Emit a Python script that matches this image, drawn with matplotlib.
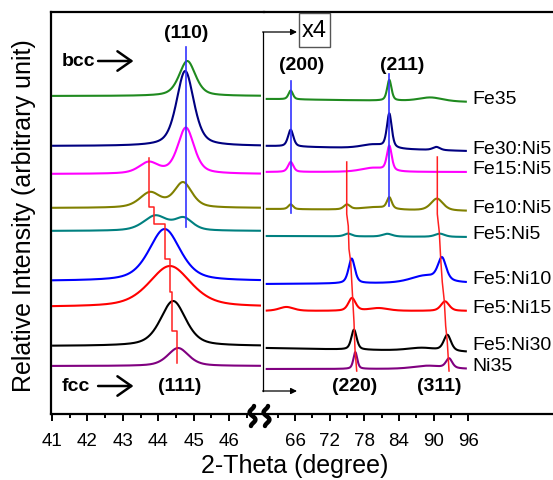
import numpy as np
import matplotlib
matplotlib.use("Agg")
import matplotlib.pyplot as plt
from matplotlib.patches import Rectangle

plt.rcParams["font.family"] = ["Liberation Sans", "DejaVu Sans"]

# ---------------- data ----------------
samples = ["Fe35", "Fe30:Ni5", "Fe15:Ni5", "Fe10:Ni5", "Fe5:Ni5",
           "Fe5:Ni10", "Fe5:Ni15", "Fe5:Ni30", "Ni35"]
colors = ["#1f8a1f", "#000080", "#ff00ff", "#808000", "#008080",
          "#0000ff", "#ff0000", "#000000", "#800080"]

# vertical stacking offsets (arbitrary units)
offset_left = [318, 268, 240, 206, 183, 133, 107, 68, 48]
offset_right_start = [315, 268, 242, 205, 178, 130, 103, 66, 45]
offset_right_end = [312, 263, 242, 203, 177, 131, 103, 62, 45]

# (110)/(111) region: peaks as (2-theta, intensity, FWHM)
peaks_left = [
    [(44.82, 35, 0.55)],
    [(44.76, 75, 0.58)],
    [(43.73, 11, 0.65), (44.78, 46, 0.55)],
    [(43.77, 15, 0.70), (44.70, 25, 0.60)],
    [(43.92, 15, 0.80), (44.72, 12, 0.60)],
    [(44.18, 52, 1.05)],
    [(44.33, 41, 1.40)],
    [(44.42, 45, 0.85)],
    [(44.56, 18, 0.70)],
]

# high-angle region (intensities before the x4 magnification)
RIGHT_SCALE = 4
peaks_right = [
    [(65.25, 2.2, 0.9), (82.34, 5.2, 0.9), (89.5, 1.0, 5.0)],
    [(65.25, 4.2, 1.1), (82.34, 8.5, 1.0), (79.5, 1.0, 5.0), (90.5, 0.8, 1.5)],
    [(65.25, 2.5, 1.1), (82.34, 6.2, 1.0), (79.5, 1.0, 5.0)],
    [(65.25, 1.2, 1.0), (75.0, 1.2, 1.3), (82.34, 2.8, 1.0),
     (90.6, 3.0, 2.5), (80.0, 0.7, 6.0)],
    [(75.2, 0.7, 1.5), (82.0, 0.7, 2.0), (91.1, 0.8, 2.0)],
    [(75.82, 6.2, 1.3), (91.47, 5.6, 1.7), (88.5, 1.8, 6.0)],
    [(64.5, 1.0, 3.0), (75.87, 3.2, 1.5), (92.0, 2.4, 1.7), (80.5, 0.7, 4.0)],
    [(76.22, 5.0, 1.1), (92.4, 4.0, 1.5), (88.0, 0.8, 6.0)],
    [(76.45, 4.2, 0.8), (92.7, 2.4, 1.3), (89.0, 0.8, 6.0)],
]

# peak-position guide lines
bcc110 = (44.79, 187, 367)
bcc200 = (65.25, 201, 333)
bcc211 = (82.34, 208, 340)
fcc111_x = [43.73, 43.88, 44.20, 44.33, 44.40, 44.52]
fcc111_y = [256, 207, 190, 155, 122, 83, 51]
fcc220_x = [74.96, 74.96, 75.23, 75.35, 75.65, 75.93, 76.22, 76.39, 76.69]
fcc220_y = [252, 200, 188, 165, 152, 122, 92, 65, 43]
fcc311_x = [90.66, 90.66, 91.00, 91.25, 91.52, 91.87, 92.11, 92.39, 92.69]
fcc311_y = [257, 200, 182, 155, 132, 113, 88, 72, 43]

left_ticks = [41, 42, 43, 44, 45, 46]
right_ticks = [66, 72, 78, 84, 90, 96]


def pseudo_voigt(x, center, height, fwhm, eta=0.5):
    d = (x - center) / fwhm
    gauss = np.exp(-4 * np.log(2) * d ** 2)
    lorentz = 1.0 / (1.0 + 4 * d ** 2)
    return height * (eta * lorentz + (1 - eta) * gauss)


# ---------------- figure ----------------
W, H = 553, 481
fig = plt.figure(figsize=(W / 100, H / 100), dpi=100)
fig.patch.set_facecolor("white")

top_px, bot_px = 13, 415
ax_bottom = (H - bot_px) / H
ax_height = (bot_px - top_px) / H
left_px, split_px, right_px = 51, 264.5, 560
ax1 = fig.add_axes([left_px / W, ax_bottom, (split_px - left_px) / W, ax_height])
ax2 = fig.add_axes([split_px / W, ax_bottom, (right_px - split_px) / W, ax_height])

ax1.set_xlim(40.97, 47.0)
ax2.set_xlim(60.71, 60.71 + (right_px - split_px) / 5.77)
for ax in (ax1, ax2):
    ax.set_ylim(0, bot_px - top_px)
    ax.set_yticks([])
    ax.patch.set_alpha(0)
    for s in ("top", "bottom", "left"):
        ax.spines[s].set_linewidth(1.6)
ax1.spines["right"].set_visible(False)
ax2.spines["left"].set_visible(False)
ax2.spines["right"].set_visible(False)

ax1.set_xticks(left_ticks)
ax1.set_xticks(np.arange(41.5, 47.0, 1.0), minor=True)
ax2.set_xticks(right_ticks)
ax2.set_xticks(np.arange(63, 96, 6), minor=True)
for ax in (ax1, ax2):
    ax.tick_params(axis="x", which="major", direction="out", length=4.8,
                   width=1.4, labelsize=13.5, pad=8)
    ax.tick_params(axis="x", which="minor", direction="out", length=2.8,
                   width=1.4)

x_left = np.linspace(41.0, 46.9, 800)
x_right = np.linspace(61.1, 95.6, 900)

for i, name in enumerate(samples):
    yl = np.full_like(x_left, float(offset_left[i]))
    for c, h, w in peaks_left[i]:
        yl += pseudo_voigt(x_left, c, h, w)
    ax1.plot(x_left, yl, color=colors[i], lw=1.5, solid_capstyle="butt")

    yr = np.interp(x_right, [x_right[0], x_right[-1]],
                   [offset_right_start[i], offset_right_end[i]])
    for c, h, w in peaks_right[i]:
        yr += RIGHT_SCALE * pseudo_voigt(x_right, c, h, w)
    ax2.plot(x_right, yr, color=colors[i], lw=1.5)

    nudge = {"Fe5:Ni30": 7, "Fe5:Ni10": 4}.get(name, 3)
    ax2.text(96.67, offset_right_end[i] + nudge, name, fontsize=14,
             ha="left", va="center")

# bcc guide lines (blue)
for ax, (x, y0, y1) in ((ax1, bcc110), (ax2, bcc200), (ax2, bcc211)):
    ax.plot([x, x], [y0, y1], color="#3333ff", lw=1.2)

# fcc (111) staircase guide (red)
sx, sy = [], []
for k, x in enumerate(fcc111_x):
    sx += [x, x]
    sy += [fcc111_y[k], fcc111_y[k + 1]]
ax1.plot(sx, sy, color="#ff2020", lw=1.1)
ax2.plot(fcc220_x, fcc220_y, color="#ff2020", lw=1.1)
ax2.plot(fcc311_x, fcc311_y, color="#ff2020", lw=1.1)

# reflection labels
bold = dict(fontsize=14, fontweight="bold", ha="center", va="center")
ax1.text(44.79, 382, "(110)", **bold)
ax1.text(44.60, 28, "(111)", **bold)
ax2.text(67.2, 350, "(200)", **bold)
ax2.text(84.54, 350, "(211)", **bold)
ax2.text(76.4, 28, "(220)", **bold)
ax2.text(90.95, 28, "(311)", **bold)

ax1.text(41.28, 353, "bcc", fontsize=14, fontweight="bold", ha="left", va="center")
ax1.text(41.28, 28, "fcc", fontsize=14, fontweight="bold", ha="left", va="center")
for y in (353, 28):
    ax1.annotate("", xy=(43.3, y), xytext=(42.3, y),
                 arrowprops=dict(arrowstyle="->,head_length=0.5,head_width=0.35",
                                 lw=1.8, color="black", mutation_scale=20,
                                 shrinkA=0, shrinkB=0))

# overlay in pixel coordinates for axis titles and annotations
ov = fig.add_axes([0, 0, 1, 1])
ov.set_xlim(0, W)
ov.set_ylim(H, 0)
ov.axis("off")
ov.patch.set_alpha(0)

ov.text(295, 466, "2-Theta (degree)", fontsize=18, ha="center", va="center")
ov.text(24, 216, "Relative Intensity (arbitrary unit)", fontsize=18,
        rotation=90, ha="center", va="center")

# x4 bracket
ov.plot([263, 263], [33, 392], color="black", lw=0.9)
for y in (33, 392):
    ov.annotate("", xy=(297, y), xytext=(262.6, y),
                arrowprops=dict(arrowstyle="-|>", lw=0.9, color="black",
                                mutation_scale=9, shrinkA=0, shrinkB=0))
ov.add_patch(Rectangle((299, 13.5), 31, 34.5, fill=False, edgecolor="#555555", lw=1.0))
ov.text(314.5, 31, "x4", fontsize=17, ha="center", va="center")

# axis break marks
t = np.linspace(-1, 1, 60)
for x0 in (252.5, 266.5):
    ov.plot(x0 + 4.5 * np.sin(np.pi * t) * np.cos(np.pi * t / 2) - 1.5 * t,
            417 + 10 * t, color="black", lw=3.2, solid_capstyle="round")

fig.savefig("out.png", dpi=100)
